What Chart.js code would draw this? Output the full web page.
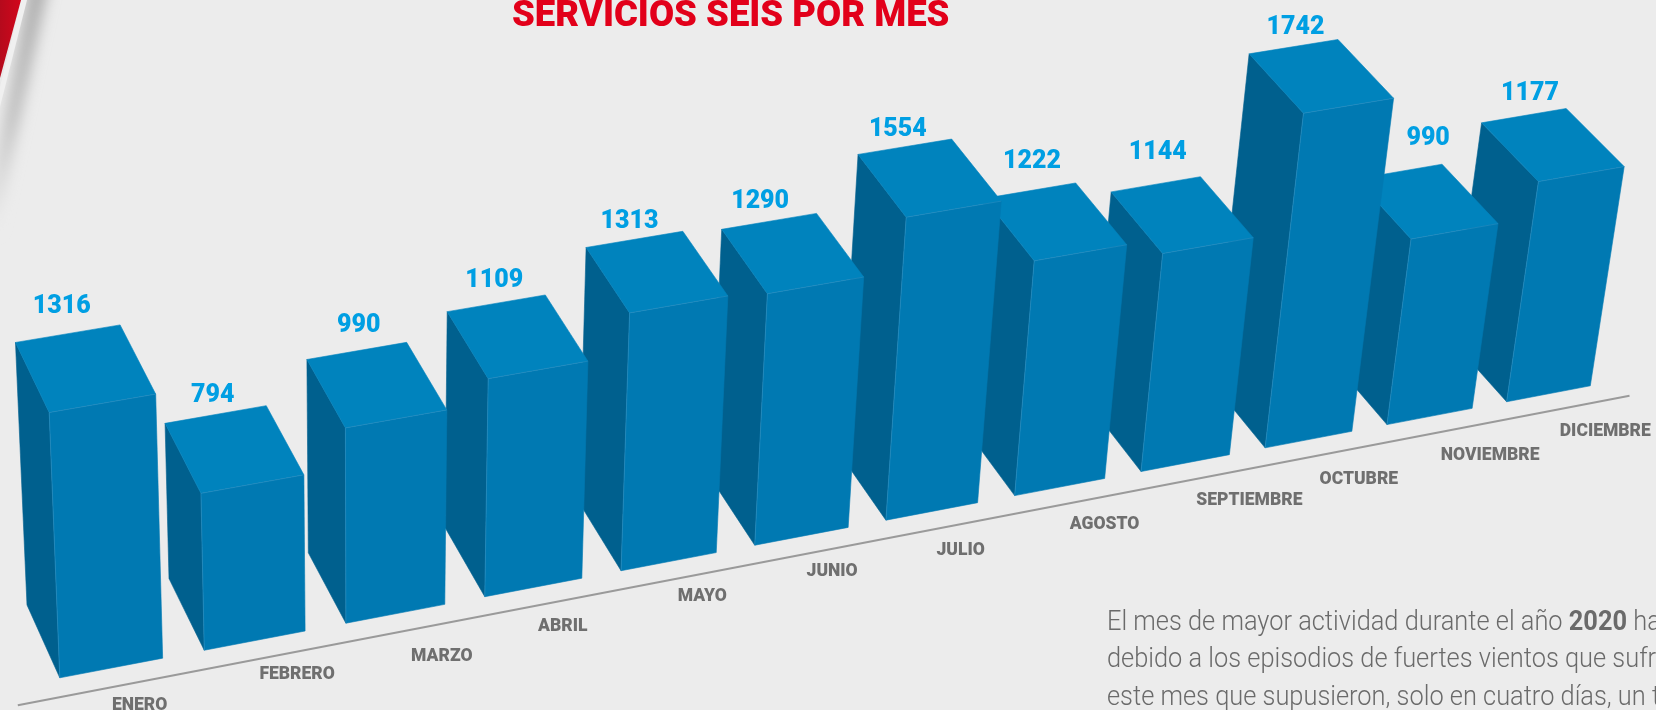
<!DOCTYPE html>
<html lang="es"><head><meta charset="utf-8">
<style>
html,body{margin:0;padding:0;width:1656px;height:710px;overflow:hidden;background:#ececec}
#deco{position:absolute;left:0;top:0}
#c{position:absolute;left:0;top:0}
#title{position:absolute;left:512px;top:-7px;font:900 36px/42px Roboto,sans-serif;color:#e2001a;white-space:nowrap;transform-origin:0 0}
.line{position:absolute;left:1107px;font:300 27px/37px Roboto,sans-serif;color:#6a6a6a;white-space:nowrap;transform-origin:0 0;transform:scaleX(.94)}
.line b{font-weight:700}
</style>
<script src="https://cdn.jsdelivr.net/npm/chart.js@4/dist/chart.umd.min.js"></script>
</head><body>
<svg id="deco" width="140" height="300">
<defs>
<filter id="bl" x="-60%" y="-20%" width="220%" height="140%"><feGaussianBlur stdDeviation="7"/></filter>
<linearGradient id="fade" x1="0" y1="0" x2="0" y2="1"><stop offset="0" stop-color="#adadad"/><stop offset=".55" stop-color="#c0c0c0"/><stop offset="1" stop-color="#ececec"/></linearGradient>
<linearGradient id="red" x1="0" y1="0" x2="1" y2="0"><stop offset="0" stop-color="#b50a1c"/><stop offset="1" stop-color="#d2071c"/></linearGradient>
</defs>
<polygon points="30,-20 50,-20 -4,230 -16,230" fill="url(#fade)" filter="url(#bl)"/>
<polygon points="21,0 27,0 -2,115 -2,95" fill="#f0f0f0"/>
<polygon points="0,0 21,0 0,78" fill="url(#red)"/>
</svg>
<canvas id="c" width="1656" height="710"></canvas>
<div id="title">SERVICIOS SEIS POR MES</div>
<div class="line" style="top:603px">El mes de mayor actividad durante el año <b>2020</b> ha sido</div>
<div class="line" style="top:640px">debido a los episodios de fuertes vientos que sufrió</div>
<div class="line" style="top:678px">este mes que supusieron, solo en cuatro días, un total</div>
<script>
const months=['ENERO','FEBRERO','MARZO','ABRIL','MAYO','JUNIO','JULIO','AGOSTO','SEPTIEMBRE','OCTUBRE','NOVIEMBRE','DICIEMBRE'];
const servicios=[1316,794,990,1109,1313,1290,1554,1222,1144,1742,990,1177];
// hand-placed label offsets of the reference, in px from each bar's projected anchor
const valueNudgeX=[-6,-3,2,-2,-5,-9,-7,2,2,2,29,6];
const valueNudgeY=[-27,-19,-25,-23,-18,-20,-17,-29,-32,-19,-33,-22];
const monthNudgeX=[-23,-8,-3,-19,-14,-16,-17,0,20,7,18,15];
const monthNudgeY=[47,44,52,48,44,44,48,46,46,48,47,46];

// camera: where the front plane's four corners land, and the depth vanishing point
const frontBaseLeft=[59.8,677.8], frontTopLeft=[49.2,412.5], frontBaseRight=[1590.3,385.8], frontTopRight=[1624.2,166.6];
const depthVanish=[-1647,-3112], depthRatio=0.0196;
const axisDepth=-0.24, axisOverLeft=47, axisOverRight=30;
const faceFront='#0079b2', faceTop='#0083bd', faceLeft='#00608e', edge='rgba(120,190,225,.3)';

function homography(src,dst){
  const A=[];
  for(let i=0;i<4;i++){const [u,v]=src[i],[x,y]=dst[i];
    A.push([u,v,1,0,0,0,-u*x,-v*x,x]);A.push([0,0,0,u,v,1,-u*y,-v*y,y]);}
  for(let c=0;c<8;c++){let p=c;for(let r=c+1;r<8;r++)if(Math.abs(A[r][c])>Math.abs(A[p][c]))p=r;
    [A[c],A[p]]=[A[p],A[c]];
    for(let r=0;r<8;r++){if(r===c)continue;const f=A[r][c]/A[c][c];for(let k=c;k<9;k++)A[r][k]-=f*A[c][k];}}
  return A.map((r,i)=>r[8]/r[i]);
}
const bar3d={id:'bar3d',
  beforeDatasetDraw(){return false;},
  afterDatasetsDraw(chart){
    const ctx=chart.ctx,els=chart.getDatasetMeta(0).data;
    const L=b=>b.x-b.width/2,R=b=>b.x+b.width/2;
    const n=els.length-1,base=els[0].base;
    const h=homography([[L(els[0]),base],[L(els[0]),els[0].y],[R(els[n]),base],[R(els[n]),els[n].y]],
      [frontBaseLeft,frontTopLeft,frontBaseRight,frontTopRight]);
    const w0=h[6]*L(els[0])+h[7]*base+1, k=depthRatio*w0;
    const P=(u,v,z)=>{const w=h[6]*u+h[7]*v+1+z*k;
      return [(h[0]*u+h[1]*v+h[2]+z*k*depthVanish[0])/w,(h[3]*u+h[4]*v+h[5]+z*k*depthVanish[1])/w];};
    const poly=(pts,fill)=>{ctx.beginPath();pts.forEach((p,i)=>i?ctx.lineTo(p[0],p[1]):ctx.moveTo(p[0],p[1]));ctx.closePath();
      ctx.fillStyle=fill;ctx.fill();ctx.strokeStyle=fill;ctx.lineWidth=.6;ctx.stroke();};
    const seg=(a,b,col,lw)=>{ctx.beginPath();ctx.moveTo(a[0],a[1]);ctx.lineTo(b[0],b[1]);ctx.strokeStyle=col;ctx.lineWidth=lw;ctx.stroke();};
    // axis line
    seg(P(L(els[0])-axisOverLeft,base,axisDepth),P(R(els[n])+axisOverRight,base,axisDepth),'#9a9a9a',2);
    // boxes, far to near
    for(let i=n;i>=0;i--){const b=els[i],l=L(b),r=R(b),t=b.y;
      const D=P(l,t,0),C=P(r,t,0),A=P(l,t,1),B=P(r,t,1),F=P(l,base,0),G=P(r,base,0),H=P(l,base,1);
      poly([D,A,H,F],faceLeft);poly([A,B,C,D],faceTop);poly([D,C,G,F],faceFront);
      seg(D,C,edge,.7);seg(D,F,edge,.7);
    }
    // labels
    ctx.textAlign='center';ctx.textBaseline='middle';
    els.forEach((b,i)=>{const l=L(b),r=R(b),t=b.y;
      const A=P(l,t,1),B=P(r,t,1),G=P(r,base,0);
      ctx.font='900 25px Roboto,sans-serif';ctx.fillStyle='#009fe3';
      ctx.fillText(String(servicios[i]),(A[0]+B[0])/2+valueNudgeX[i],(A[1]+B[1])/2+valueNudgeY[i]);
      ctx.font='900 17.5px Roboto,sans-serif';ctx.fillStyle='#6f6f6f';
      ctx.fillText(months[i],G[0]+monthNudgeX[i],G[1]+monthNudgeY[i]);
    });
  }};
new Chart(document.getElementById('c'),{type:'bar',
  data:{labels:months,datasets:[{label:'Servicios',data:servicios,backgroundColor:faceFront,barPercentage:.71,categoryPercentage:1}]},
  options:{responsive:false,animation:false,
    layout:{padding:0},
    plugins:{legend:{display:false},title:{display:false},tooltip:{enabled:false}},
    scales:{x:{display:false},y:{display:false,min:0,max:1800}}},
  plugins:[bar3d]});
const t=document.getElementById('title');
t.style.transform='scaleX('+(437/t.offsetWidth)+')';
</script>
</body></html>
